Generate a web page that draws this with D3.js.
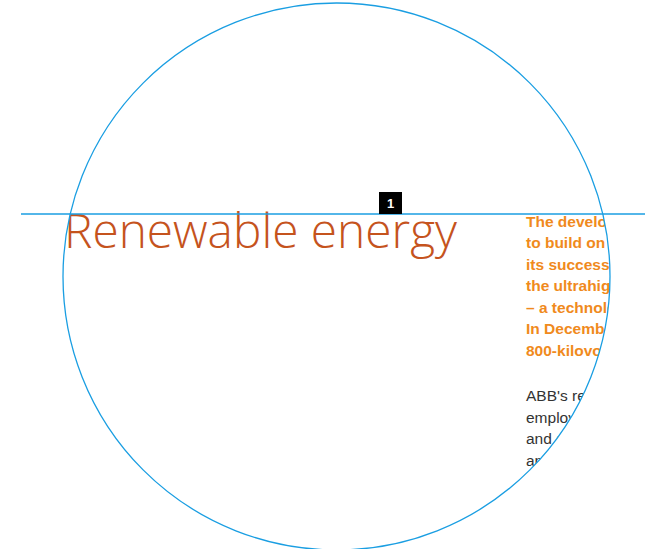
<!DOCTYPE html>
<html><head><meta charset="utf-8">
<script src="https://cdn.jsdelivr.net/npm/d3@7"></script>
<style>html,body{margin:0;padding:0;background:#fff;}svg{display:block;}</style>
</head><body>
<script>
const titleText = "Renewable energy";
const markerLabel = ["1"];
const leadLines = [
  "The development",
  "to build on its",
  "its success in",
  "the ultrahigh-",
  "– a technology",
  "In December",
  "800-kilovolt"
];
const bodyLines = [
  "ABB's renew",
  "employs",
  "and serves",
  "and"
];

const W = 652, H = 549;
const svg = d3.select("body").append("svg").attr("width", W).attr("height", H);
const blue = "#1a9ee2";
const cx = 336.5, cy = 276.5, r = 273.5;

svg.append("defs").append("clipPath").attr("id","circ")
  .append("circle").attr("cx",cx).attr("cy",cy).attr("r",r);

const g = svg.append("g").attr("clip-path","url(#circ)");

// title
const t = g.append("text").attr("x",64).attr("y",248)
  .attr("fill","#c5531d")
  .style("font-family","'Open Sans', Roboto, 'Liberation Sans', sans-serif")
  .style("font-weight",300)
  .style("font-size","44px")
  .text(titleText);
const tw = t.node().getComputedTextLength();
t.style("font-size", (44*393/tw)+"px");

const yLead = d3.scaleLinear().domain([0,1]).range([226.5, 248]);
g.selectAll("text.lead").data(leadLines).join("text").attr("class","lead")
  .attr("x",526).attr("y",(d,i)=>yLead(i))
  .attr("fill","#f08a1d")
  .style("font-family","'Liberation Sans', Arial, sans-serif")
  .style("font-weight","bold").style("font-size","15.5px")
  .text(d=>d);

const yBody = d3.scaleLinear().domain([0,1]).range([401, 422.5]);
g.selectAll("text.body").data(bodyLines).join("text").attr("class","body")
  .attr("x",526).attr("y",(d,i)=>yBody(i))
  .attr("fill","#333")
  .style("font-family","'Liberation Sans', Arial, sans-serif")
  .style("font-size","15.5px")
  .text(d=>d);

// circle outline
svg.append("circle").attr("cx",cx).attr("cy",cy).attr("r",r)
  .attr("fill","none").attr("stroke",blue).attr("stroke-width",1.3);

// horizontal rule
svg.append("line").attr("x1",21).attr("x2",645).attr("y1",214).attr("y2",214)
  .attr("stroke",blue).attr("stroke-width",1.3);

// marker
const m = svg.selectAll("g.marker").data(markerLabel).join("g").attr("class","marker");
m.append("rect").attr("x",379).attr("y",192).attr("width",23).attr("height",22).attr("fill","#000");
m.append("text").attr("x",390.5).attr("y",208).attr("text-anchor","middle")
  .attr("fill","#fff").style("font-family","'Liberation Sans', Arial, sans-serif")
  .style("font-weight","bold").style("font-size","13px").text(d=>d);
</script>
</body></html>
